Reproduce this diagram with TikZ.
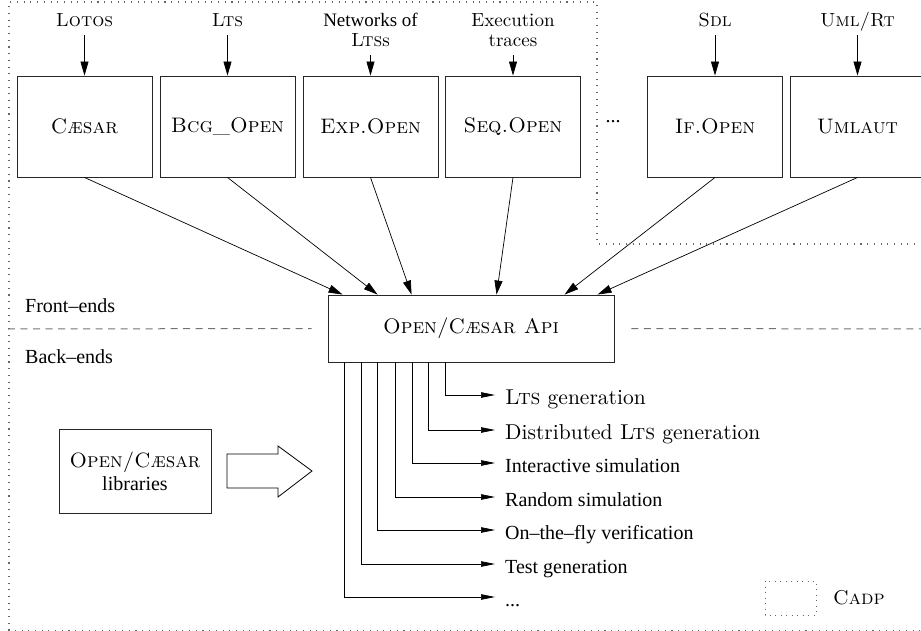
\documentclass[tikz,border=0pt]{standalone}
\usepackage{fontspec}
\newfontfamily\tms{Liberation Serif}
\newfontfamily\lmx{lmroman10-regular.otf}[SmallCapsFont=lmromancaps10-regular.otf]
\usetikzlibrary{arrows.meta}
\begin{document}
\begin{tikzpicture}[x=1pt,y=-1pt,
  lmf/.style={font=\fontsize{19}{20}\lmx},
  lmbox/.style={font=\fontsize{21}{21}\lmx},
  lmbig/.style={font=\fontsize{21.5}{21.5}\lmx},
  tmf/.style={font=\fontsize{20}{20}\tms},
  toolbox/.style={draw=black!85, line width=0.9pt, minimum width=135pt, minimum height=101pt, inner sep=0pt, lmbox},
  toplabel/.style={anchor=south, inner xsep=0pt, inner ysep=8pt, text depth=0pt, align=center, lmf},
  arr/.style={-{Triangle[length=14pt,width=8pt]}, line width=0.7pt},
  sarr/.style={-{Triangle[length=14pt,width=5.5pt]}, line width=0.7pt},
  outlabel/.style={anchor=west, inner xsep=10pt, inner ysep=0pt, text height=21pt, text depth=2pt},
  sepline/.style={draw=black!55, line width=1pt, dash pattern=on 7pt off 5.5pt},
  dotline/.style={draw=black!60, line width=1.1pt, dash pattern=on 1.1pt off 5.6pt}
]
\clip (0,0) rectangle (921,631);
% CADP region
\draw[dotline] (9,630.5) -- (9,2) -- (597,2) -- (597,244) -- (935,244) -- (935,630.5) -- cycle;

% front-end tools
\node[toolbox] (b1) at (84.5,126.5) {\textsc{C\ae sar}};
\node[toolbox] (b2) at (227.5,126.5) {\textsc{Bcg\_Open}};
\node[toolbox] (b3) at (370.5,126.5) {\textsc{Exp.Open}};
\node[toolbox] (b4) at (513,126.5) {\textsc{Seq.Open}};
\node[toolbox] (b5) at (715,126.5) {\textsc{If.Open}};
\node[toolbox] (b6) at (857.5,126.5) {\textsc{Umlaut}};
\node[tmf] (dots) at (613,122) {...};

% input labels
\node[toplabel] (l1) at (84.5,35) {\textsc{Lotos}};
\node[toplabel] (l2) at (227.5,35) {\textsc{Lts}};
\node[toplabel] (l3) at (370.5,55) {{\tms Networks of}\\\textsc{Lts}s};
\node[toplabel] (l4) at (513,55) {Execution\\traces};
\node[toplabel] (l5) at (715,35) {\textsc{Sdl}};
\node[toplabel] (l6) at (857.5,35) {\textsc{Uml/Rt}};
\foreach \i in {1,...,6} \draw[arr] (l\i.south) -- (b\i.north);

% API
\node[draw=black!85, line width=0.9pt, minimum width=286pt, minimum height=67pt, inner sep=0pt, font=\fontsize{21}{21}\lmx] (api) at (471,328.5) {\textsc{Open/C\ae sar Api}};
\draw[arr] (b1.south) -- ([xshift=15pt]api.north west);
\draw[arr] (b2.south) -- ([xshift=50pt]api.north west);
\draw[arr] (b3.south) -- ([xshift=84pt]api.north west);
\draw[arr] (b4.south) -- ([xshift=169pt]api.north west);
\draw[arr] (b5.south) -- ([xshift=237pt]api.north west);
\draw[arr] (b6.south) -- ([xshift=270pt]api.north west);

% separation line
\coordinate (sl) at (8,329);
\coordinate (sr) at (925,329);
\draw[sepline] (sl) -- ([xshift=-16pt]api.west);
\draw[sepline] ([xshift=17pt]api.east) -- (sr);
\node[tmf, anchor=base west, inner sep=0pt] (fe) at (25,312) {Front–ends};
\node[tmf, anchor=base west, inner sep=0pt] (be) at (25,363) {Back–ends};

% back-ends
\node[outlabel, lmbig] (o0) at (495,395) {\textsc{Lts} generation};
\node[outlabel, lmbig] (o1) at (495,430) {Distributed \textsc{Lts} generation};
\node[outlabel, tmf] (o2) at (495,463) {Interactive simulation};
\node[outlabel, tmf] (o3) at (495,497) {Random simulation};
\node[outlabel, tmf] (o4) at (495,530) {On–the–fly verification};
\node[outlabel, tmf] (o5) at (495,564) {Test generation};
\node[outlabel, tmf] (o6) at (495,597) {...};
\draw[sarr] ([xshift=118pt]api.south west) |- (o0.west);
\draw[sarr] ([xshift=101pt]api.south west) |- (o1.west);
\draw[sarr] ([xshift=85pt]api.south west) |- (o2.west);
\draw[sarr] ([xshift=68pt]api.south west) |- (o3.west);
\draw[sarr] ([xshift=50pt]api.south west) |- (o4.west);
\draw[sarr] ([xshift=34pt]api.south west) |- (o5.west);
\draw[sarr] ([xshift=17pt]api.south west) |- (o6.west);

% libraries
\node[draw=black!85, line width=0.9pt, minimum width=152pt, minimum height=84pt, inner sep=0pt, align=center, font=\fontsize{20.7}{20.7}\lmx] (lib) at (135,471) {\textsc{Open/C\ae sar}\\[2pt]{\fontsize{20}{20}\tms libraries}};
\draw[line width=0.8pt] (227,454) -- (278,454) -- (278,446) -- (312,471) -- (278,497) -- (278,488) -- (227,488) -- cycle;

% legend
\draw[dotline, line width=1pt, dash pattern=on 1pt off 4.5pt] (765,581) rectangle (816,615);
\node[anchor=west, inner sep=0pt, font=\fontsize{20}{20}\lmx] (cadp) at (833,598) {\textsc{Cadp}};
\end{tikzpicture}
\end{document}
